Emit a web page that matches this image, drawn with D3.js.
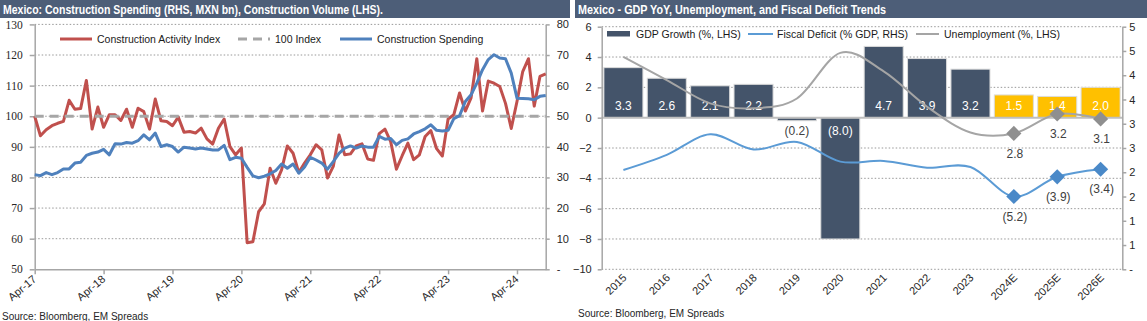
<!DOCTYPE html>
<html>
<head>
<meta charset="utf-8">
<script src="https://d3js.org/d3.v7.min.js"></script>
<style>
body { margin: 0; background: #fff; }
svg { display: block; font-family: "Liberation Sans", Arial, sans-serif; }
.grid line { stroke: #7f7f7f; stroke-width: 0.8; stroke-dasharray: 1.5,2; }
.axis path, .axis line { stroke: #a6a6a6; stroke-width: 1.5; fill: none; }
.axis text { fill: #262626; font-size: 11px; }
.serif text { font-family: "Liberation Serif", "Times New Roman", serif; font-size: 11.5px; }
.legend text { font-size: 10.5px; fill: #1a1a1a; }
.title text { fill: #fff; font-weight: bold; font-size: 12px; }
.source { font-size: 10px; fill: #262626; }
</style>
</head>
<body>
<svg id="chart" width="1147" height="321"></svg>
<script>

// construction, monthly from Apr-17
var activityIndex = [
  100.0, 93.6, 95.6, 96.9, 97.7, 98.3, 105.2, 102.3, 102.5, 111.7, 95.8, 103.0,
  96.4, 100.5, 100.5, 98.6, 102.3, 96.4, 102.6, 101.5, 95.8, 105.6, 98.5, 98.3,
  96.9, 99.7, 94.8, 95.0, 94.5, 96.1, 92.6, 90.9, 96.1, 99.1, 90.1, 87.4,
  89.6, 58.7, 59.0, 68.8, 71.4, 83.0, 78.1, 82.5, 90.3, 87.9, 81.6, 84.7,
  87.4, 90.7, 89.0, 79.8, 83.6, 93.9, 87.4, 87.7, 90.3, 91.0, 86.0, 85.6,
  94.3, 95.8, 91.7, 82.7, 87.1, 91.2, 85.8, 87.4, 93.4, 95.3, 89.4, 87.0,
  99.1, 100.5, 107.6, 101.7, 106.0, 118.8, 101.7, 111.5, 110.8, 109.7, 104.2, 96.0,
  104.8, 114.6, 118.8, 103.3, 113.0, 113.8
];
var spending = [
  30.9, 30.6, 31.6, 30.9, 31.6, 32.8, 32.8, 34.7, 35.0, 37.2, 37.9, 38.3,
  39.2, 37.4, 41.0, 40.9, 41.4, 41.2, 42.0, 43.9, 42.3, 44.5, 40.1, 40.7,
  40.1, 38.3, 39.9, 39.6, 39.3, 39.6, 39.3, 39.0, 39.0, 40.5, 35.8, 36.6,
  36.3, 33.3, 30.5, 29.9, 30.4, 31.2, 32.3, 34.4, 33.0, 34.4, 31.4, 33.4,
  36.6, 35.7, 34.7, 32.7, 35.2, 37.9, 39.6, 40.3, 39.6, 40.3, 39.9, 39.9,
  43.4, 42.5, 42.7, 40.7, 42.1, 42.6, 44.2, 45.0, 45.9, 47.2, 45.4, 45.2,
  45.4, 49.2, 50.2, 54.8, 57.0, 60.8, 65.2, 68.5, 70.1, 69.0, 68.8, 64.1,
  55.9, 55.8, 55.7, 55.4, 56.5, 56.8
];
var monthTicks = ["Apr-17", "Apr-18", "Apr-19", "Apr-20", "Apr-21", "Apr-22", "Apr-23", "Apr-24"];
var indexLevel = 100;

// macro, yearly
var years = ["2015", "2016", "2017", "2018", "2019", "2020", "2021", "2022", "2023", "2024E", "2025E", "2026E"];
var gdpGrowth = [3.3, 2.6, 2.1, 2.2, -0.2, -8.0, 4.7, 3.9, 3.2, 1.5, 1.4, 2.0];
var fiscalDeficit = [-3.45, -2.45, -1.1, -2.1, -1.6, -2.9, -2.85, -3.3, -3.25, -5.2, -3.9, -3.4];
var unemployment = [4.38, 3.9, 3.42, 3.32, 3.52, 4.46, 4.08, 3.35, 2.82, 2.8, 3.2, 3.1];

var svg = d3.select('#chart');
var fmt1 = d3.format('.1f');
function paren(v) { return v < 0 ? '(' + fmt1(-v) + ')' : fmt1(v); }
function isEst(y) { return /E$/.test(y); }

// title bars
function titleBar(x, w, text, len) {
  var g = svg.append('g').attr('class', 'title');
  g.append('rect').attr('x', x).attr('y', 0).attr('width', w).attr('height', 18).attr('fill', '#4d5e78');
  g.append('text').attr('x', x + 3).attr('y', 13.5).attr('textLength', len)
    .attr('lengthAdjust', 'spacingAndGlyphs').text(text);
}
titleBar(0, 570, 'Mexico: Construction Spending (RHS, MXN bn), Construction Volume (LHS).', 380);
titleBar(575, 572, 'Mexico - GDP YoY, Unemployment, and Fiscal Deficit Trends', 308);

// ---------- left: construction ----------
var L = {left: 34.7, right: 545.7, top: 24.4, bottom: 269.3};
var xM = d3.scaleLinear().domain([0, activityIndex.length - 1]).range([L.left, L.right]);
var yL = d3.scaleLinear().domain([50, 130]).range([L.bottom, L.top]);
var yR = d3.scaleLinear().domain([0, 80]).range([L.bottom, L.top]);

svg.append('g').attr('class', 'grid')
  .selectAll('line').data(d3.range(60, 131, 10)).enter().append('line')
  .attr('x1', L.left).attr('x2', L.right)
  .attr('y1', function(d) { return yL(d); }).attr('y2', function(d) { return yL(d); });

svg.append('g').attr('class', 'axis serif')
  .attr('transform', 'translate(' + L.left + ',0)')
  .call(d3.axisLeft(yL).tickValues(d3.range(50, 131, 10)).tickSize(5).tickSizeOuter(0).tickPadding(7));

svg.append('g').attr('class', 'axis')
  .attr('transform', 'translate(' + L.right + ',0)')
  .call(d3.axisRight(yR).tickValues(d3.range(0, 81, 10)).tickSize(4).tickSizeOuter(0).tickPadding(7)
    .tickFormat(function(d) { return d === 0 ? '-' : d; }));

var xAxisL = svg.append('g').attr('class', 'axis')
  .attr('transform', 'translate(0,' + L.bottom + ')')
  .call(d3.axisBottom(xM).tickValues(d3.range(0, activityIndex.length, 12)).tickSize(5).tickSizeOuter(0)
    .tickFormat(function(d, i) { return monthTicks[i]; }));
xAxisL.selectAll('text')
  .attr('text-anchor', 'end').attr('dy', null).attr('y', 0)
  .attr('transform', 'translate(2,11) rotate(-40)');

var lineL = d3.line().x(function(d, i) { return xM(i); }).y(function(d) { return yL(d); });
var lineR = d3.line().x(function(d, i) { return xM(i); }).y(function(d) { return yR(d); });

svg.append('path').datum(activityIndex).attr('d', lineL)
  .attr('fill', 'none').attr('stroke', '#c0504d').attr('stroke-width', 3).attr('stroke-linejoin', 'round');
svg.append('line')
  .attr('x1', xM(0)).attr('x2', xM(activityIndex.length - 1))
  .attr('y1', yL(indexLevel)).attr('y2', yL(indexLevel))
  .attr('stroke', '#a6a6a6').attr('stroke-width', 3).attr('stroke-dasharray', '9,6');
svg.append('path').datum(spending).attr('d', lineR)
  .attr('fill', 'none').attr('stroke', '#4f81bd').attr('stroke-width', 3).attr('stroke-linejoin', 'round');

var legL = svg.append('g').attr('class', 'legend');
[
  {x: 60, label: 'Construction Activity Index', color: '#c0504d', dash: null},
  {x: 238, label: '100 Index', color: '#a6a6a6', dash: '9,6'},
  {x: 340, label: 'Construction Spending', color: '#4f81bd', dash: null}
].forEach(function(d) {
  legL.append('line').attr('x1', d.x).attr('x2', d.x + 32).attr('y1', 39).attr('y2', 39)
    .attr('stroke', d.color).attr('stroke-width', 3).attr('stroke-dasharray', d.dash);
  legL.append('text').attr('x', d.x + 37).attr('y', 42.5).text(d.label);
});

svg.append('text').attr('class', 'source').attr('x', 2).attr('y', 319.5).text('Source: Bloomberg, EM Spreads');

// ---------- right: GDP, deficit, unemployment ----------
var R = {left: 601.7, right: 1122.3, top: 26.7, bottom: 269.3};
var xB = d3.scaleBand().domain(years).range([R.left, R.right]).paddingInner(0.1).paddingOuter(0.05);
var yG = d3.scaleLinear().domain([-10, 6]).range([R.bottom, R.top]);
var yU = d3.scaleLinear().domain([0, 5]).range([R.bottom, R.top]);
var cx = function(d) { return xB(d) + xB.bandwidth() / 2; };

svg.append('g').attr('class', 'grid')
  .selectAll('line').data(d3.range(-10, 7, 2).filter(function(d) { return d !== 0; })).enter().append('line')
  .attr('x1', R.left).attr('x2', R.right)
  .attr('y1', function(d) { return yG(d); }).attr('y2', function(d) { return yG(d); });

svg.append('g').selectAll('rect').data(years).enter().append('rect')
  .attr('x', function(d) { return xB(d); })
  .attr('width', xB.bandwidth())
  .attr('y', function(d, i) { return Math.min(yG(gdpGrowth[i]), yG(0)); })
  .attr('height', function(d, i) { return Math.abs(yG(gdpGrowth[i]) - yG(0)); })
  .attr('fill', function(d) { return isEst(d) ? '#ffc000' : '#44546a'; })
  .attr('stroke', '#dcdcdc').attr('stroke-width', 1);

svg.append('line').attr('x1', R.left).attr('x2', R.right).attr('y1', yG(0)).attr('y2', yG(0))
  .attr('stroke', '#bfbfbf').attr('stroke-width', 2);

svg.append('g').attr('class', 'axis')
  .attr('transform', 'translate(' + R.left + ',0)')
  .call(d3.axisLeft(yG).tickValues(d3.range(-10, 7, 2)).tickSize(4).tickSizeOuter(0).tickPadding(6));

svg.append('g').attr('class', 'axis')
  .attr('transform', 'translate(' + R.right + ',0)')
  .call(d3.axisRight(yU).tickValues(d3.range(0, 5.01, 0.5)).tickSize(4).tickSizeOuter(0).tickPadding(3)
    .tickFormat(function(d) { return d === 0 ? '-' : d3.format('.0f')(d); }));

var xAxisR = svg.append('g').attr('class', 'axis')
  .attr('transform', 'translate(0,' + R.bottom + ')')
  .call(d3.axisBottom(xB).tickSize(0));
xAxisR.select('.domain').remove();
xAxisR.selectAll('text')
  .attr('text-anchor', 'end').attr('dy', null).attr('y', 0)
  .attr('transform', 'translate(4,9) rotate(-45)');

svg.append('g').selectAll('text').data(years).enter().append('text')
  .attr('x', cx)
  .attr('y', function(d, i) { return gdpGrowth[i] < 0 ? yG(0) + 13 : yG(0) - 12; })
  .attr('dy', '0.35em').attr('text-anchor', 'middle').attr('font-size', 12)
  .attr('fill', function(d, i) { return Math.abs(yG(gdpGrowth[i]) - yG(0)) > 20 ? '#fff' : '#404040'; })
  .text(function(d, i) { return paren(gdpGrowth[i]); });

var smooth = d3.curveCardinal.tension(0);
var lineF = d3.line().curve(smooth).x(function(d, i) { return cx(years[i]); }).y(function(d) { return yG(d); });
var lineU = d3.line().curve(smooth).x(function(d, i) { return cx(years[i]); }).y(function(d) { return yU(d); });

svg.append('path').datum(unemployment).attr('d', lineU)
  .attr('fill', 'none').attr('stroke', '#a5a5a5').attr('stroke-width', 2);
svg.append('path').datum(fiscalDeficit).attr('d', lineF)
  .attr('fill', 'none').attr('stroke', '#5b9bd5').attr('stroke-width', 2);

var diamond = d3.symbol(d3.symbolSquare, 115);
function markers(values, scale, color, fmt) {
  var est = years.map(function(y, i) { return i; }).filter(function(i) { return isEst(years[i]); });
  var g = svg.append('g');
  g.selectAll('path').data(est).enter().append('path')
    .attr('d', diamond)
    .attr('transform', function(i) { return 'translate(' + cx(years[i]) + ',' + scale(values[i]) + ') rotate(45)'; })
    .attr('fill', color);
  g.selectAll('text').data(est).enter().append('text')
    .attr('x', function(i) { return cx(years[i]) + 1; })
    .attr('y', function(i) { return scale(values[i]) + 20; })
    .attr('dy', '0.35em').attr('text-anchor', 'middle').attr('font-size', 12).attr('fill', '#404040')
    .text(function(i) { return fmt(values[i]); });
}
markers(unemployment, yU, '#8f8f8f', fmt1);
markers(fiscalDeficit, yG, '#4a89c8', paren);

var legR = svg.append('g').attr('class', 'legend');
legR.append('rect').attr('x', 607).attr('y', 31).attr('width', 23).attr('height', 5.5).attr('fill', '#44546a');
legR.append('text').attr('x', 636).attr('y', 37.5).text('GDP Growth (%, LHS)');
legR.append('line').attr('x1', 748).attr('x2', 773).attr('y1', 34).attr('y2', 34).attr('stroke', '#5b9bd5').attr('stroke-width', 2);
legR.append('text').attr('x', 777).attr('y', 37.5).text('Fiscal Deficit (% GDP, RHS)');
legR.append('line').attr('x1', 916).attr('x2', 939).attr('y1', 34).attr('y2', 34).attr('stroke', '#a5a5a5').attr('stroke-width', 2);
legR.append('text').attr('x', 944).attr('y', 37.5).text('Unemployment (%, LHS)');

svg.append('text').attr('class', 'source').attr('x', 578).attr('y', 316.5).text('Source: Bloomberg, EM Spreads');

</script>
</body>
</html>
